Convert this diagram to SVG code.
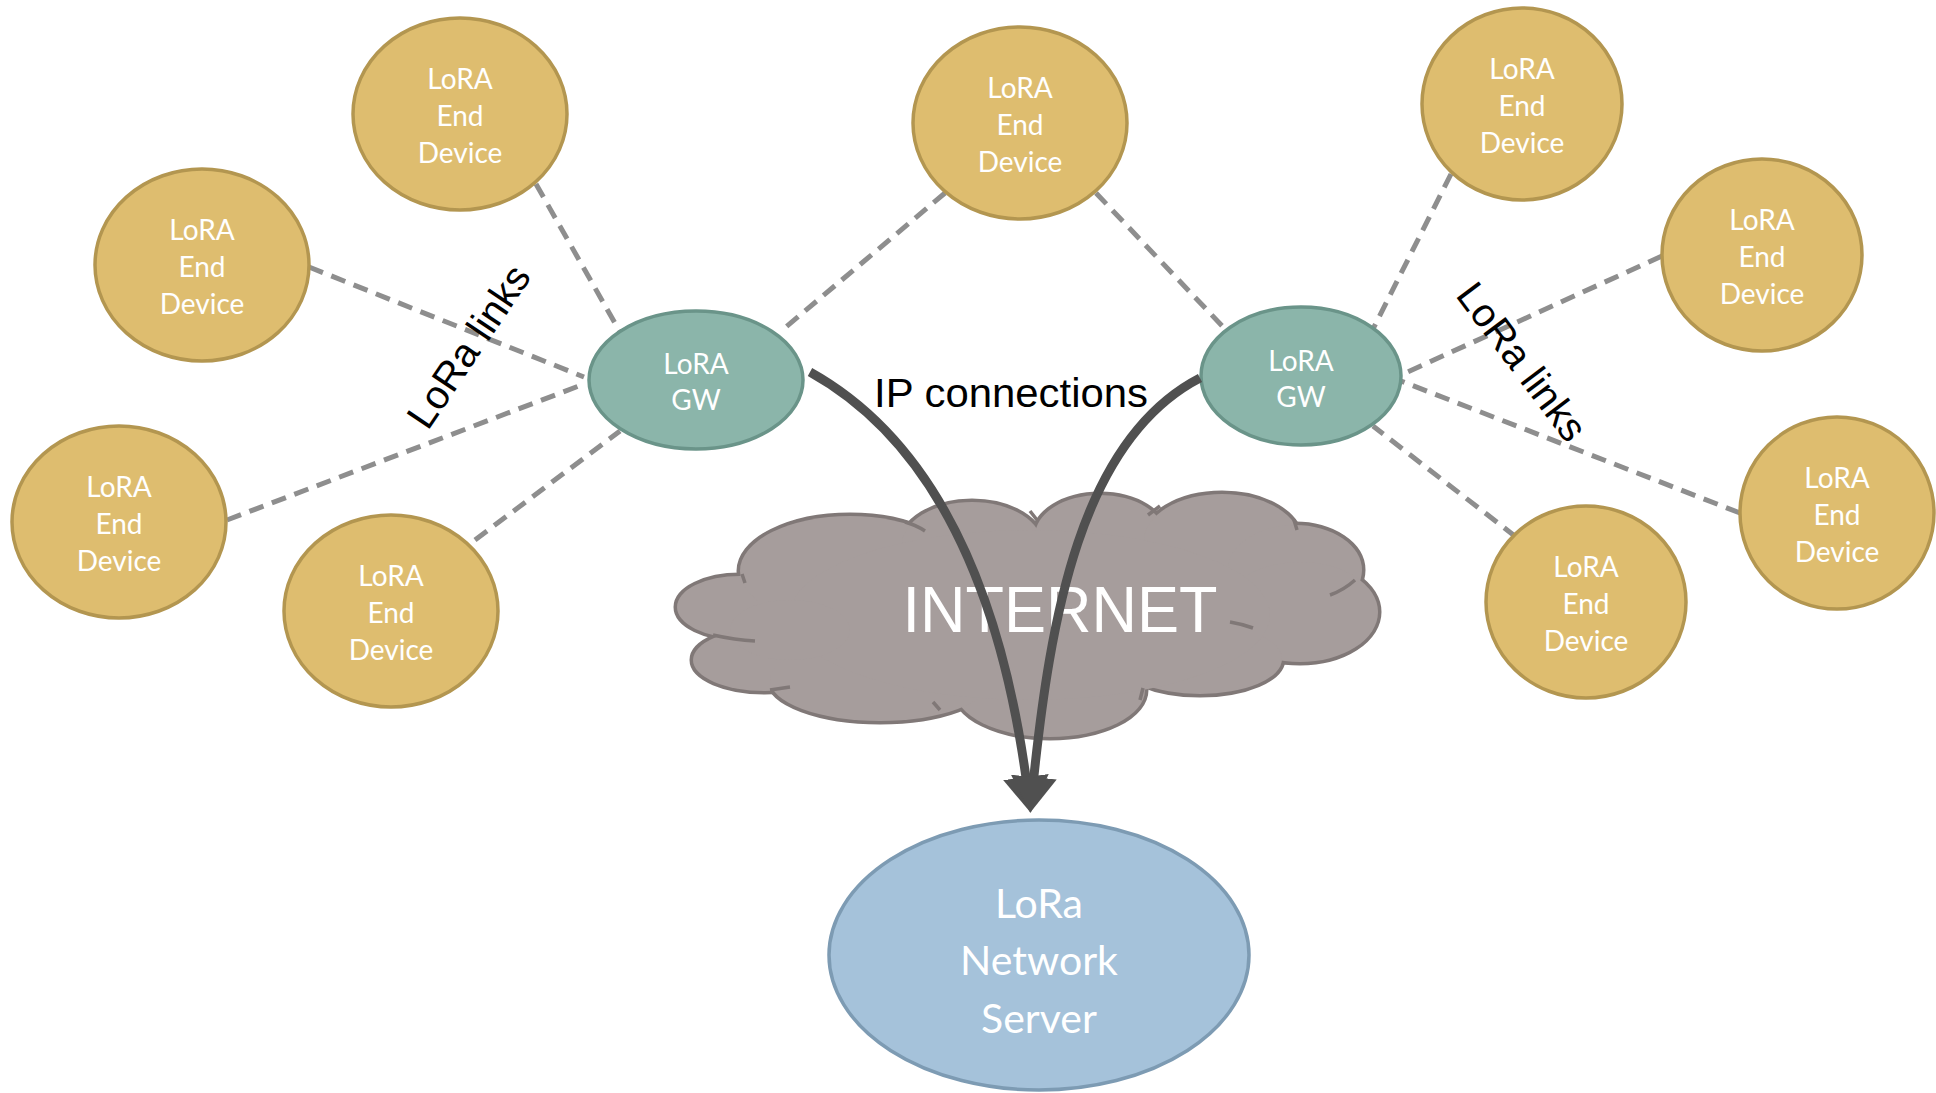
<svg xmlns="http://www.w3.org/2000/svg" width="1936" height="1093" viewBox="0 0 1936 1093">
<style>
  .dev { fill: #DEBD6F; stroke: #B39650; stroke-width: 3.5; }
  .gw { fill: #8BB5AA; stroke: #6A9489; stroke-width: 3.5; }
  .srv { fill: #A5C2DA; stroke: #7D9BB3; stroke-width: 3.5; }
  .lbl { font-family: Lato, "Noto Sans", "Liberation Sans", sans-serif; font-size: 28px; fill: #FFFFFF; text-anchor: middle; }
  .srvlbl { font-family: Lato, "Noto Sans", "Liberation Sans", sans-serif; font-size: 41px; fill: #FFFFFF; text-anchor: middle; }
  .dash { stroke: #8E8E8E; stroke-width: 5; stroke-dasharray: 15 9; fill: none; }
  .ip { stroke: #505050; stroke-width: 9; fill: none; marker-end: url(#arrow); }
  .note { font-family: "Liberation Sans", Arial, sans-serif; font-size: 40px; fill: #000000; text-anchor: middle; }
  .cloudS { stroke: #807877; stroke-width: 7; fill: #807877; }
  .cloudF { fill: #A69D9C; stroke: none; }
  .stub { stroke: #807877; stroke-width: 3.5; fill: none; }
</style>
<defs>
  <marker id="arrow" markerUnits="userSpaceOnUse" viewBox="0 0 36 46" refX="8" refY="23" markerWidth="36" markerHeight="46" orient="auto">
    <path d="M0,0 L36,23 L0,46 z" fill="#505050"/>
  </marker>
</defs>
<rect x="0" y="0" width="1936" height="1093" fill="#FFFFFF"/>

<g id="connectors-lora">
  <line class="dash" x1="536" y1="184" x2="620" y2="332"/>
  <line class="dash" x1="309" y1="267" x2="584" y2="377"/>
  <line class="dash" x1="227" y1="520" x2="584" y2="384"/>
  <line class="dash" x1="475" y1="540" x2="620" y2="431"/>
  <line class="dash" x1="945" y1="193" x2="780" y2="332"/>
  <line class="dash" x1="1096" y1="193" x2="1226" y2="330"/>
  <line class="dash" x1="1451" y1="174" x2="1373" y2="329"/>
  <line class="dash" x1="1662" y1="256" x2="1401" y2="375"/>
  <line class="dash" x1="1740" y1="513" x2="1401" y2="381"/>
  <line class="dash" x1="1516" y1="537" x2="1373" y2="426"/>
</g>

<g id="internet">
  <g class="cloudS">
    <ellipse cx="740" cy="607" rx="63" ry="31"/>
    <ellipse cx="765" cy="660" rx="72" ry="31"/>
    <ellipse cx="850" cy="571" rx="110" ry="55"/>
    <ellipse cx="972" cy="545" rx="70" ry="43"/>
    <ellipse cx="1100" cy="536" rx="65" ry="41"/>
    <ellipse cx="1222" cy="541" rx="78" ry="47"/>
    <ellipse cx="1295" cy="570" rx="67" ry="45"/>
    <ellipse cx="1300" cy="612" rx="78" ry="50"/>
    <ellipse cx="1200" cy="659" rx="82" ry="35"/>
    <ellipse cx="1050" cy="690" rx="95" ry="47"/>
    <ellipse cx="880" cy="680" rx="110" ry="41"/>
  </g>
  <g class="cloudF">
    <ellipse cx="740" cy="607" rx="63" ry="31"/>
    <ellipse cx="765" cy="660" rx="72" ry="31"/>
    <ellipse cx="850" cy="571" rx="110" ry="55"/>
    <ellipse cx="972" cy="545" rx="70" ry="43"/>
    <ellipse cx="1100" cy="536" rx="65" ry="41"/>
    <ellipse cx="1222" cy="541" rx="78" ry="47"/>
    <ellipse cx="1295" cy="570" rx="67" ry="45"/>
    <ellipse cx="1300" cy="612" rx="78" ry="50"/>
    <ellipse cx="1200" cy="659" rx="82" ry="35"/>
    <ellipse cx="1050" cy="690" rx="95" ry="47"/>
    <ellipse cx="880" cy="680" rx="110" ry="41"/>
    <ellipse cx="1030" cy="615" rx="240" ry="85"/>
    <ellipse cx="790" cy="630" rx="60" ry="30"/>
  </g>
  <path class="stub" d="M905,522 Q916,525 925,531 M713,635 Q735,640 755,641 M770,690 L790,687 M933,702 L940,710 M1030,511 L1037,520 M1160,506 L1148,515 M1294,520 L1297,530 M1355,580 Q1344,590 1330,595 M1230,622 Q1242,624 1253,628 M1140,700 L1143,688 M742,574 L745,583"/>
  <text x="1060" y="632" font-family="'Liberation Sans', Arial, sans-serif" font-size="64" fill="#FFFFFF" text-anchor="middle" textLength="315" lengthAdjust="spacingAndGlyphs">INTERNET</text>
</g>

<g id="dev1"><ellipse class="dev" cx="460" cy="114" rx="107" ry="96"/>
  <text class="lbl" x="460" y="89">LoRA</text><text class="lbl" x="460" y="126">End</text><text class="lbl" x="460" y="163">Device</text></g>
<g id="dev2"><ellipse class="dev" cx="202" cy="265" rx="107" ry="96"/>
  <text class="lbl" x="202" y="240">LoRA</text><text class="lbl" x="202" y="277">End</text><text class="lbl" x="202" y="314">Device</text></g>
<g id="dev3"><ellipse class="dev" cx="119" cy="522" rx="107" ry="96"/>
  <text class="lbl" x="119" y="497">LoRA</text><text class="lbl" x="119" y="534">End</text><text class="lbl" x="119" y="571">Device</text></g>
<g id="dev4"><ellipse class="dev" cx="391" cy="611" rx="107" ry="96"/>
  <text class="lbl" x="391" y="586">LoRA</text><text class="lbl" x="391" y="623">End</text><text class="lbl" x="391" y="660">Device</text></g>
<g id="dev5"><ellipse class="dev" cx="1020" cy="123" rx="107" ry="96"/>
  <text class="lbl" x="1020" y="98">LoRA</text><text class="lbl" x="1020" y="135">End</text><text class="lbl" x="1020" y="172">Device</text></g>
<g id="dev6"><ellipse class="dev" cx="1522" cy="104" rx="100" ry="96"/>
  <text class="lbl" x="1522" y="79">LoRA</text><text class="lbl" x="1522" y="116">End</text><text class="lbl" x="1522" y="153">Device</text></g>
<g id="dev7"><ellipse class="dev" cx="1762" cy="255" rx="100" ry="96"/>
  <text class="lbl" x="1762" y="230">LoRA</text><text class="lbl" x="1762" y="267">End</text><text class="lbl" x="1762" y="304">Device</text></g>
<g id="dev8"><ellipse class="dev" cx="1837" cy="513" rx="97" ry="96"/>
  <text class="lbl" x="1837" y="488">LoRA</text><text class="lbl" x="1837" y="525">End</text><text class="lbl" x="1837" y="562">Device</text></g>
<g id="dev9"><ellipse class="dev" cx="1586" cy="602" rx="100" ry="96"/>
  <text class="lbl" x="1586" y="577">LoRA</text><text class="lbl" x="1586" y="614">End</text><text class="lbl" x="1586" y="651">Device</text></g>

<g id="gw1"><ellipse class="gw" cx="696" cy="380" rx="107" ry="69"/>
  <text class="lbl" x="696" y="374">LoRA</text><text class="lbl" x="696" y="410">GW</text></g>
<g id="gw2"><ellipse class="gw" cx="1301" cy="376" rx="100" ry="69"/>
  <text class="lbl" x="1301" y="371">LoRA</text><text class="lbl" x="1301" y="407">GW</text></g>

<g id="server"><ellipse class="srv" cx="1039" cy="955" rx="210" ry="135"/>
  <text class="srvlbl" x="1039" y="918">LoRa</text><text class="srvlbl" x="1039" y="975">Network</text><text class="srvlbl" x="1039" y="1033">Server</text></g>

<g id="connectors-ip">
  <path class="ip" d="M810,372 C950,450 1005,620 1027,785"/>
  <path class="ip" d="M1200,378 C1080,440 1050,620 1033,785"/>
</g>

<g id="labels">
  <text class="note" x="1011" y="407" textLength="274" lengthAdjust="spacingAndGlyphs">IP connections</text>
  <text class="note" transform="translate(480,354) rotate(-56)" x="0" y="0">LoRa links</text>
  <text class="note" transform="translate(1511,370) rotate(53)" x="0" y="0">LoRa links</text>
</g>
</svg>
